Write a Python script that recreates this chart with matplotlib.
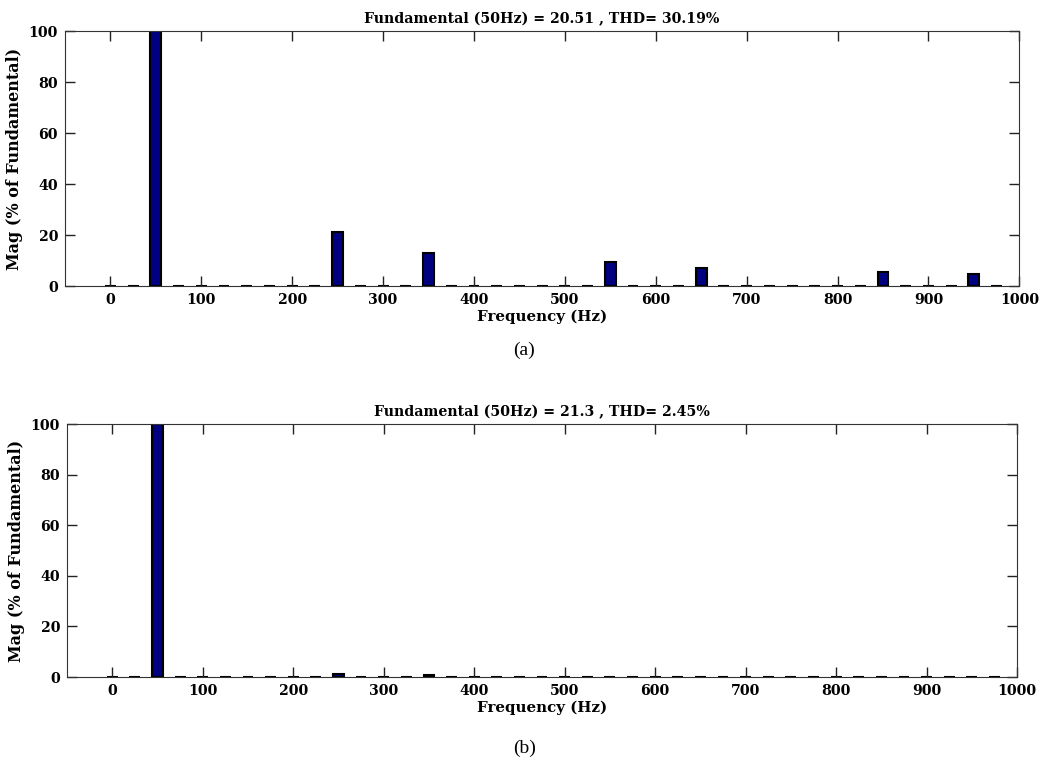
import numpy as np
import matplotlib.pyplot as plt

# harmonic spectrum, bars every 25 Hz from 0 to 975
freq = np.arange(0, 1000, 25)

harm_a = {50: 100, 250: 21.2, 350: 12.8, 550: 9.3, 650: 7.1, 850: 5.6, 950: 4.8}
harm_b = {50: 100, 250: 1.2, 350: 0.8}

mag_a = np.array([harm_a.get(f, 0) for f in freq])
mag_b = np.array([harm_b.get(f, 0) for f in freq])

title_a = 'Fundamental (50Hz) = 20.51 , THD= 30.19%'
title_b = 'Fundamental (50Hz) = 21.3 , THD= 2.45%'
xticks = np.arange(0, 1001, 100)
yticks = np.arange(0, 101, 20)

plt.rcParams['font.family'] = 'DejaVu Serif'
plt.rcParams['font.weight'] = 'bold'

fig = plt.figure(figsize=(10.43, 7.65), dpi=100)
ax1 = fig.add_axes([0.0623, 0.6261, 0.915, 0.3333])
ax2 = fig.add_axes([0.0642, 0.1150, 0.911, 0.3307])

for ax, mag, title in [(ax1, mag_a, title_a), (ax2, mag_b, title_b)]:
    ax.bar(freq, mag, width=12, color='#000080', edgecolor='black', linewidth=1.5)
    ax.set_xlim(-50, 1000)
    ax.set_ylim(0, 100)
    ax.set_xticks(xticks)
    ax.set_yticks(yticks)
    ax.tick_params(direction='in', top=True, right=True, length=7, width=1,
                   labelsize=10.2, colors='#222222', labelcolor='black', pad=5)
    for s in ax.spines.values():
        s.set_color('#333333')
    ax.set_title(title, fontsize=10.2, fontweight='bold', pad=6)
    ax.set_xlabel('Frequency (Hz)', fontsize=10.8, fontweight='bold', labelpad=2)
    ax.set_ylabel('Mag (% of Fundamental)', fontsize=11.5, fontweight='bold', labelpad=4)

fig.text(0.5025, 0.542, '(a)', ha='center', va='center', fontsize=14,
         family='Liberation Serif', fontweight='normal')
fig.text(0.5025, 0.022, '(b)', ha='center', va='center', fontsize=14,
         family='Liberation Serif', fontweight='normal')

plt.savefig('out.png', dpi=100)
